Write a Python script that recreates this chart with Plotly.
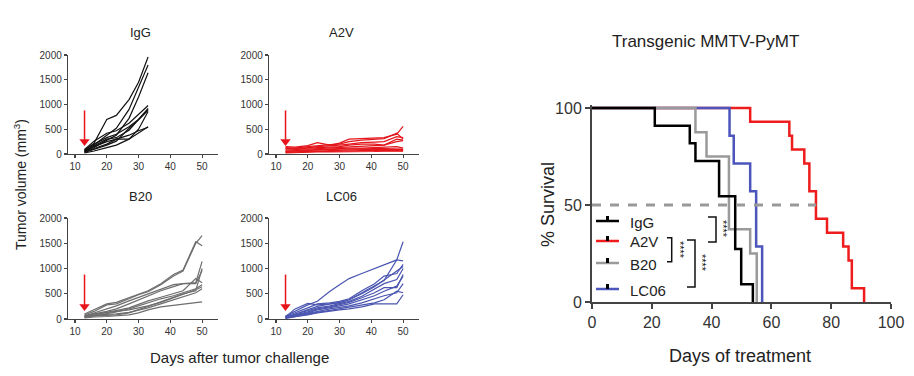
import plotly.graph_objects as go

W, H = 914, 376

# ---------------- Tumor growth data (mm^3) ----------------
igg_days = [13, 16, 20, 23, 27, 30, 33]
igg_vol = [
    [70, 220, 700, 780, 1100, 1450, 1960],
    [50, 180, 380, 520, 900, 1350, 1800],
    [40, 130, 280, 380, 720, 1150, 1640],
    [90, 260, 420, 470, 620, 800, 980],
    [60, 170, 300, 330, 480, 700, 920],
    [30, 90, 180, 260, 520, 690, 880],
    [60, 150, 250, 300, 300, 420, 550],
    [40, 110, 200, 300, 380, 470, 540],
    [80, 200, 330, 400, 550, 700, 900],
    [20, 60, 130, 180, 300, 500, 860],
]

late_days = [13, 16, 20, 23, 27, 30, 33, 37, 41, 44, 48, 50]
a2v_vol = [
    [150, 140, 170, 230, 180, 220, 300, 310, 320, 330, 400, 560],
    [130, 120, 150, 170, 190, 200, 250, 280, 300, 310, 420, 300],
    [100, 110, 130, 150, 160, 180, 200, 230, 240, 250, 350, 330],
    [80, 90, 120, 130, 140, 150, 180, 200, 200, 180, 300, 280],
    [120, 100, 100, 110, 120, 140, 150, 160, 170, 180, 250, 270],
    [60, 70, 80, 90, 100, 110, 120, 120, 130, 140, 150, 120],
    [50, 60, 70, 80, 90, 100, 100, 110, 110, 110, 110, 100],
    [40, 50, 60, 60, 70, 80, 80, 90, 90, 90, 100, 90],
    [30, 40, 40, 50, 50, 60, 60, 70, 70, 70, 70, 70],
    [20, 30, 30, 40, 40, 40, 50, 50, 50, 60, 60, 60],
]
b20_vol = [
    [100, 180, 300, 330, 420, 500, 560, 700, 880, 970, 1530, 1450],
    [80, 150, 280, 300, 400, 480, 540, 680, 850, 950, 1500, 1650],
    [60, 120, 200, 260, 360, 430, 500, 600, 680, 700, 720, 1140],
    [50, 100, 150, 200, 300, 380, 460, 560, 640, 700, 700, 960],
    [40, 80, 120, 160, 220, 290, 360, 430, 500, 560, 800, 720],
    [30, 60, 100, 140, 200, 260, 330, 400, 460, 520, 600, 680],
    [70, 100, 130, 150, 180, 220, 260, 330, 420, 500, 580, 640],
    [50, 60, 70, 80, 120, 180, 250, 340, 430, 500, 560, 1000],
    [20, 40, 50, 60, 80, 120, 180, 240, 270, 290, 320, 340],
    [40, 70, 90, 100, 130, 170, 220, 300, 380, 450, 520, 600],
]
lc06_vol = [
    [60, 150, 280, 350, 550, 680, 800, 900, 1000, 1080, 1170, 1530],
    [40, 200, 310, 280, 300, 330, 380, 520, 650, 760, 1170, 1150],
    [50, 120, 220, 300, 320, 350, 400, 560, 700, 850, 900, 1080],
    [30, 100, 180, 250, 300, 320, 380, 500, 640, 780, 950, 1040],
    [40, 90, 160, 220, 260, 300, 350, 450, 600, 700, 780, 1000],
    [20, 80, 140, 200, 240, 280, 330, 420, 520, 620, 620, 880],
    [30, 70, 120, 180, 220, 260, 300, 380, 460, 550, 650, 850],
    [20, 60, 110, 160, 200, 230, 260, 320, 400, 460, 520, 700],
    [10, 50, 90, 130, 170, 200, 230, 280, 320, 380, 550, 520],
    [20, 40, 80, 120, 160, 180, 200, 240, 300, 300, 300, 480],
]
treatment_day = 13
small_xticks = [10, 20, 30, 40, 50]
small_yticks = [0, 500, 1000, 1500, 2000]

# ---------------- Survival data (%) ----------------
igg_t = [0, 21, 32.7, 34.6, 42.5, 47.9, 49.9, 53.8]
igg_s = [100, 90.9, 81.8, 72.7, 54.5, 27.3, 9.1, 0]
a2v_t = [0, 52.9, 66, 66.9, 71, 72.7, 74.9, 78.6, 84, 85.8, 86.9, 91]
a2v_s = [100, 92.9, 85.7, 78.6, 71.4, 57.1, 42.9, 35.7, 28.6, 21.4, 7.1, 0]
b20_t = [0, 34.6, 38.3, 45.8, 52.9, 55.1]
b20_s = [100, 87.5, 75, 37.5, 25, 0]
lc06_t = [0, 46, 47.4, 52.9, 54.9, 56.9]
lc06_s = [100, 85.7, 71.4, 57.1, 28.6, 0]
median_x = [0, 75]
median_y = [50, 50]
surv_xticks = [0, 20, 40, 60, 80, 100]
surv_yticks = [0, 50, 100]

groups = ["IgG", "A2V", "B20", "LC06"]
small_colors = ["#111111", "#e3161b", "#6e6e6e", "#4a55b0"]
surv_colors = ["#000000", "#ee1c1c", "#9a9a9a", "#4b55bb"]

FONT = "Liberation Sans, Arial, sans-serif"


def pxx(x):
    return x / W


def pxy(y):
    return 1 - y / H


fig = go.Figure()
layout = dict(
    width=W, height=H, margin=dict(l=0, r=0, t=0, b=0, pad=0),
    paper_bgcolor="white", plot_bgcolor="white",
    font=dict(family=FONT, color="#222"), showlegend=False,
)
annotations = []
shapes = []

panel_boxes = [(68, 218, 55, 154), (269, 419, 55, 154),
               (68, 218, 218, 319), (269, 419, 218, 319)]
panel_data = [(igg_days, igg_vol), (late_days, a2v_vol),
              (late_days, b20_vol), (late_days, lc06_vol)]

for k in range(4):
    idx = k + 1
    xa = "x" if idx == 1 else f"x{idx}"
    ya = "y" if idx == 1 else f"y{idx}"
    l, r, t, b = panel_boxes[k]
    layout["xaxis" if idx == 1 else f"xaxis{idx}"] = dict(
        domain=[pxx(l), pxx(r)], range=[7.8, 55], anchor=ya,
        tickvals=small_xticks, showline=True, linecolor="#444", linewidth=1.2,
        ticks="outside", ticklen=3, tickcolor="#444", tickwidth=1.2,
        tickfont=dict(size=10, color="#333"), showgrid=False, zeroline=False,
        automargin=False,
    )
    layout["yaxis" if idx == 1 else f"yaxis{idx}"] = dict(
        domain=[pxy(b), pxy(t)], range=[0, 2000], anchor=xa,
        tickvals=small_yticks, showline=True, linecolor="#444", linewidth=1.2,
        ticks="outside", ticklen=3, tickcolor="#444", tickwidth=1.2,
        tickfont=dict(size=10, color="#333"), showgrid=False, zeroline=False,
        automargin=False,
    )
    days, vols = panel_data[k]
    for row in vols:
        fig.add_trace(go.Scatter(
            x=days, y=row, mode="lines", xaxis=xa, yaxis=ya,
            line=dict(color=small_colors[k], width=1.2), hoverinfo="skip",
        ))
    # red treatment arrow: shaft + head
    fig.add_trace(go.Scatter(
        x=[treatment_day, treatment_day], y=[880, 260], mode="lines",
        xaxis=xa, yaxis=ya, line=dict(color="#e8141b", width=1.5),
        hoverinfo="skip",
    ))
    fig.add_trace(go.Scatter(
        x=[treatment_day], y=[250], mode="markers", xaxis=xa, yaxis=ya,
        marker=dict(symbol="triangle-down", size=9, color="#e8141b",
                    line=dict(width=0)),
        hoverinfo="skip", cliponaxis=False,
    ))
    annotations.append(dict(
        x=pxx((l + r) / 2 - 3), y=pxy(t - 22), xref="paper", yref="paper",
        text=groups[k], showarrow=False, font=dict(size=13, color="#222"),
        xanchor="center", yanchor="middle",
    ))

annotations.append(dict(
    x=pxx(20), y=pxy(185), xref="paper", yref="paper",
    text="Tumor volume (mm<sup>3</sup>)", textangle=-90, showarrow=False,
    font=dict(size=14, color="#222"), xanchor="center", yanchor="middle",
))
annotations.append(dict(
    x=pxx(240), y=pxy(357), xref="paper", yref="paper",
    text="Days after tumor challenge", showarrow=False,
    font=dict(size=15, color="#222"), xanchor="center", yanchor="middle",
))

# ---------------- Survival panel ----------------
layout["xaxis5"] = dict(
    domain=[pxx(592), pxx(891)], range=[0, 100], anchor="y5",
    tickvals=surv_xticks, showline=True, linecolor="#444", linewidth=2,
    ticks="outside", ticklen=5, tickcolor="#444", tickwidth=2,
    tickfont=dict(size=16, color="#333"), showgrid=False, zeroline=False,
    automargin=False,
)
layout["yaxis5"] = dict(
    domain=[pxy(302), pxy(302 - 1.94 * 101.5)], range=[0, 101.5], anchor="x5",
    tickvals=surv_yticks, showline=True, linecolor="#444", linewidth=2,
    ticks="outside", ticklen=5, tickcolor="#444", tickwidth=2,
    tickfont=dict(size=16, color="#333"), showgrid=False, zeroline=False,
    automargin=False,
)

surv = [(a2v_t, a2v_s, surv_colors[1]), (lc06_t, lc06_s, surv_colors[3]),
        (b20_t, b20_s, surv_colors[2]), (igg_t, igg_s, surv_colors[0])]
for t_, s_, c_ in surv:
    fig.add_trace(go.Scatter(
        x=t_, y=s_, mode="lines", line=dict(color=c_, width=2.5, shape="hv"),
        xaxis="x5", yaxis="y5", hoverinfo="skip",
    ))
fig.add_trace(go.Scatter(
    x=median_x, y=median_y, mode="lines", xaxis="x5", yaxis="y5",
    line=dict(color="#999999", width=3, dash="dash"), hoverinfo="skip",
))

annotations.append(dict(
    x=pxx(705), y=pxy(42), xref="paper", yref="paper",
    text="Transgenic MMTV-PyMT", showarrow=False,
    font=dict(size=17, color="#222"), xanchor="center", yanchor="middle",
))
annotations.append(dict(
    x=pxx(548), y=pxy(205), xref="paper", yref="paper",
    text="% Survival", textangle=-90, showarrow=False,
    font=dict(size=18, color="#222"), xanchor="center", yanchor="middle",
))
annotations.append(dict(
    x=pxx(740), y=pxy(356), xref="paper", yref="paper",
    text="Days of treatment", showarrow=False,
    font=dict(size=18, color="#222"), xanchor="center", yanchor="middle",
))

# legend (drawn manually, Prism style)
legend_y = [221, 241, 263, 289]
for i, g in enumerate(groups):
    yy = legend_y[i]
    shapes.append(dict(type="line", xref="paper", yref="paper",
                       x0=pxx(596), x1=pxx(619), y0=pxy(yy), y1=pxy(yy),
                       line=dict(color=surv_colors[i], width=2.5)))
    shapes.append(dict(type="rect", xref="paper", yref="paper",
                       x0=pxx(606), x1=pxx(609), y0=pxy(yy), y1=pxy(yy - 5),
                       line=dict(width=0), fillcolor="#000"))
    annotations.append(dict(
        x=pxx(628), y=pxy(yy + 1), xref="paper", yref="paper", text=g,
        showarrow=False, font=dict(size=15, color="#222"),
        xanchor="left", yanchor="middle",
    ))

# significance brackets
brackets = [(671.7, 667, 237.7, 261.7, 680, 250),
            (695, 687, 240, 287, 702, 263),
            (716, 708, 217, 242, 723, 229)]
for xv, xl, y0, y1, sx, sy in brackets:
    path = (f"M {pxx(xl)},{pxy(y0)} L {pxx(xv)},{pxy(y0)} "
            f"L {pxx(xv)},{pxy(y1)} L {pxx(xl)},{pxy(y1)}")
    shapes.append(dict(type="path", xref="paper", yref="paper", path=path,
                       line=dict(color="#111", width=1.5)))
    annotations.append(dict(
        x=pxx(sx), y=pxy(sy), xref="paper", yref="paper", text="****",
        textangle=90, showarrow=False, font=dict(size=11, color="#111"),
        xanchor="center", yanchor="middle",
    ))

layout["annotations"] = annotations
layout["shapes"] = shapes
fig.update_layout(**layout)
fig.write_html(
    "out.html",
    config={"displayModeBar": False, "staticPlot": True},
    post_script="document.body.style.margin='0';"
                "document.body.style.padding='0';"
                "document.body.style.overflow='hidden';",
)
